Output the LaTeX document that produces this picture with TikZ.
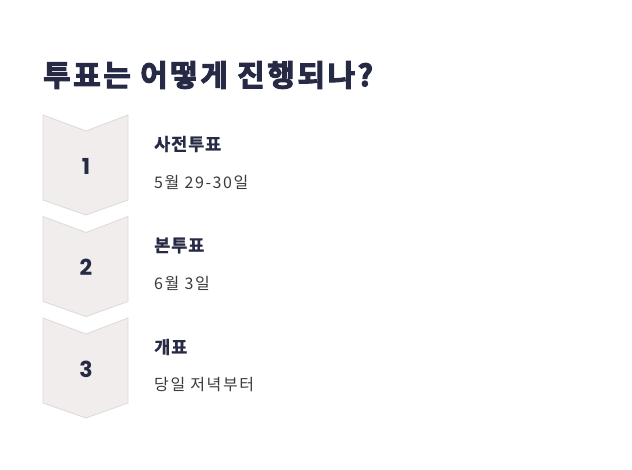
\documentclass[tikz,border=0pt]{standalone}
\usepackage{fontspec}
\setmainfont{Noto Sans CJK KR}
\newfontfamily\numfont{Poppins}
\newfontfamily\heavyfont[FakeBold=3.5,LetterSpace=9]{Noto Sans CJK KR Bold}
\newfontfamily\subheadfont[FakeBold=1.2,LetterSpace=5]{Noto Sans CJK KR Bold}
\newfontfamily\subfont[LetterSpace=10]{Noto Sans CJK KR}
\definecolor{navy}{HTML}{262A45}
\definecolor{subgray}{HTML}{3A3A3A}
\definecolor{chevfill}{HTML}{F0EDEC}
\definecolor{chevline}{HTML}{DCD9D8}
\tikzset{
  chev/.style={fill=chevfill, draw=chevline, line width=0.8pt},
  numlabel/.style={text=navy, font=\numfont\bfseries\fontsize{22}{24}\selectfont},
  steptitle/.style={anchor=west, text=navy, inner sep=0pt, font=\subheadfont\fontsize{17.5}{20}\selectfont},
  stepsub/.style={anchor=west, text=subgray, inner sep=0pt, font=\subfont\fontsize{16}{18}\selectfont},
}
\begin{document}
\begin{tikzpicture}[x=1pt,y=-1pt]
\useasboundingbox (0,0) rectangle (632,469);
\node[anchor=west, text=navy, inner sep=0pt, font=\heavyfont\fontsize{29.8}{32}\selectfont] (title) at (43,75) {투표는 어떻게 진행되나?};
\foreach \t/\n/\a/\b [count=\i] in {115/1/사전투표/5월 29-30일, 216.5/2/본투표/6월 3일, 318/3/개표/당일 저녁부터}{
  \draw[chev] (43,\t) -- (86,\t+16) -- (128,\t) -- (128,\t+85) -- (86,\t+100) -- (43,\t+85) -- cycle;
  \node[numlabel] (num\i) at (86,\t+51) {\n};
  \node[steptitle] (st\i) at (154,\t+29) {\a};
  \node[stepsub] (ss\i) at (154,\t+67) {\b};
}
\end{tikzpicture}
\end{document}
